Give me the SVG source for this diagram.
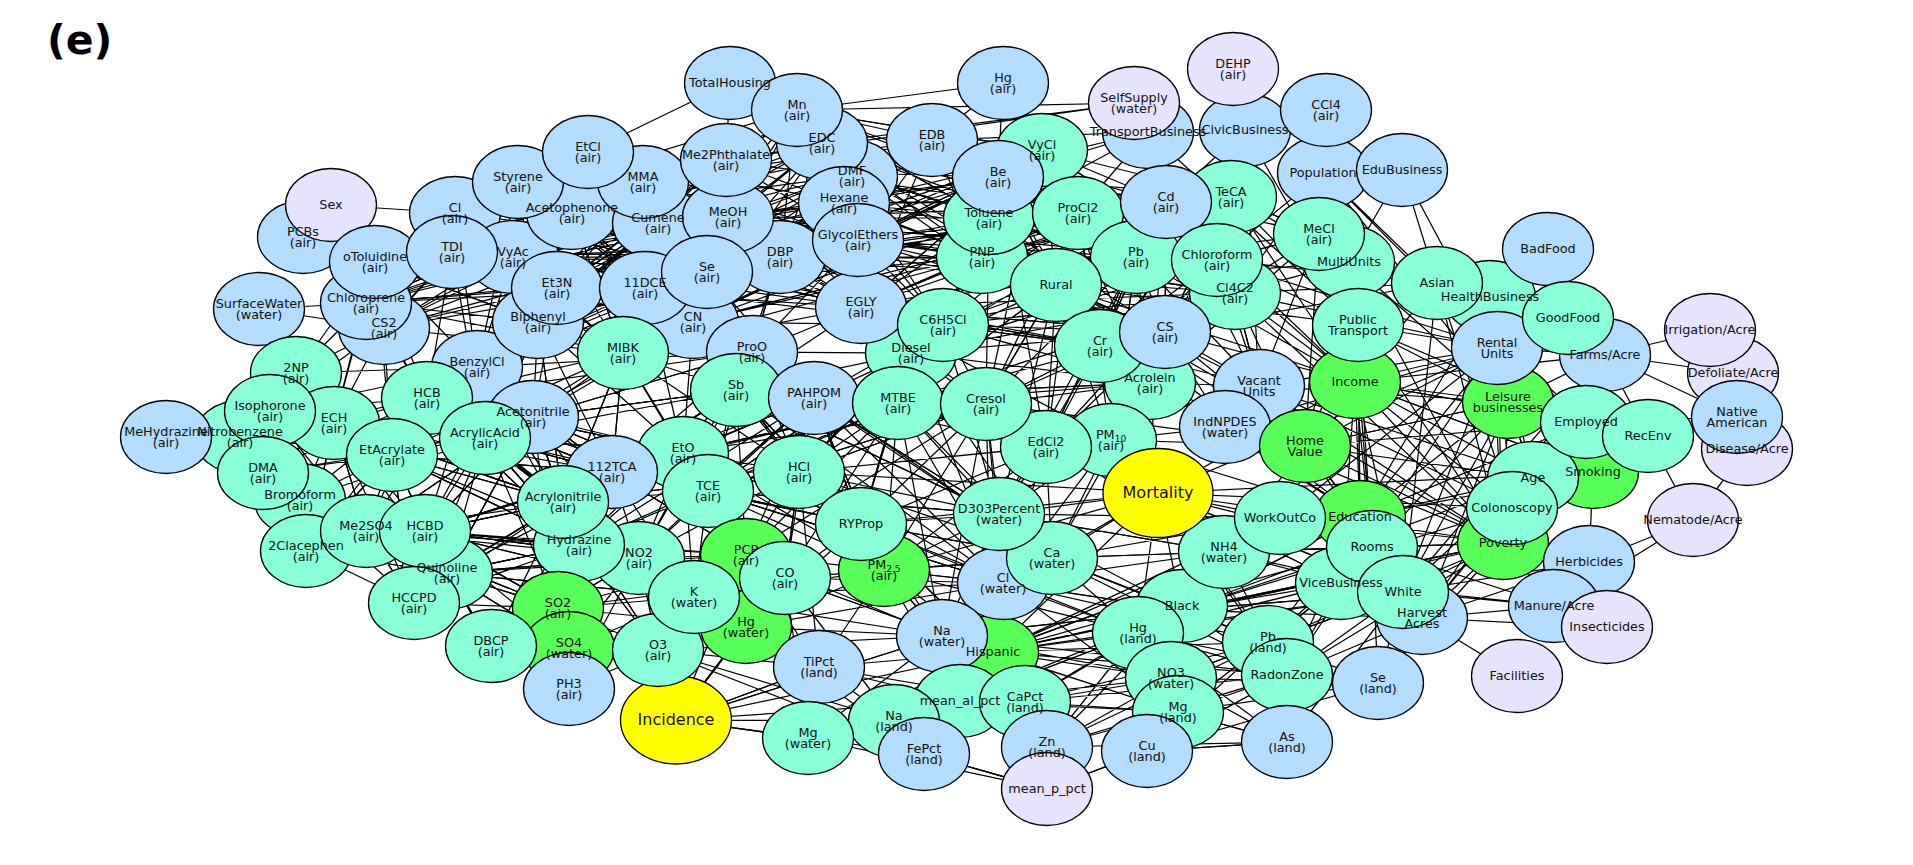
<svg xmlns="http://www.w3.org/2000/svg" width="1913" height="865" viewBox="0 0 1913 865">
<style>
.e{fill:none;stroke:#000;stroke-width:1.25;stroke-linejoin:round}
ellipse{stroke:#000;stroke-width:1.3}
.b{fill:#b3dcfd}.t{fill:#88ffd9}.g{fill:#58ff58}.l{fill:#e6e4fc}.y{fill:#ffff00}
text{font-family:"DejaVu Sans",sans-serif;font-size:12.8px;text-anchor:middle;fill:#111}
.big{font-size:16px}
.sub{font-size:9px}
</style>
<rect width="1913" height="865" fill="#fff"/>
<text x="47" y="54" style="font-size:41px;font-weight:bold;text-anchor:start;fill:#000">(e)</text>
<g id="connectors">
<path class="e" d="M455,213 645,288 452,252 728,217 375,262 658,223 366,303 707,272 513,257 780,257 518,182 693,322 557,288 726,160 384,328 623,353 572,213 858,240 538,322 588,152 477,367 844,203 452,252 643,182 366,303 823,143 455,213 780,257 557,288 658,223 375,262 623,353 518,182 645,288 513,257 728,217 538,322 726,160 455,213 693,322 572,213 861,307 452,252 707,272 366,303 643,182 477,367 797,110 557,288 852,173 538,322 844,203 513,257 588,152 645,288 858,240 518,182 623,353 658,223 384,328 707,272 572,213 780,257 375,262 726,160 645,288 823,143 557,288 861,307 455,213 623,353 728,217 366,303 658,223 538,322 518,182 707,272 477,367 780,257 452,252 693,322 588,152 513,257 858,240 572,213 384,328 844,203 645,288 797,110 455,213"/>
<path class="e" d="M780,257 989,218 728,217 982,257 858,240 943,325 844,203 998,177 852,173 932,140 861,307 1042,150 707,272 1078,213 726,160 1056,285 658,223 1166,202 823,143 1136,257 780,257 1231,197 844,203 1217,260 728,217 1235,293 858,240 1165,332 861,307 1100,346 852,173 989,218 693,322 998,177 623,353 982,257 645,288 943,325 643,182 932,140 572,213 1042,150 797,110 1078,213 823,143 1056,285 844,203 1166,202 858,240 1136,257 861,307 1217,260 780,257 1235,293 852,173 1100,346 707,272 1231,197 693,322 989,218 932,140 1056,285 726,160 982,257 823,143 998,177 858,240 1042,150 780,257 1078,213 861,307 1166,202 693,322 943,325 797,110 989,218 844,203 982,257 728,217 998,177 707,272"/>
<path class="e" d="M998,177 1136,257 1042,150 1217,260 989,218 1235,293 1078,213 1100,346 1166,202 1165,332 1056,285 1150,383 1231,197 1111,440 1136,257 1046,447 1217,260 911,353 1166,202 898,403 1235,293 986,404 1042,150 1150,383 982,257 1165,332 989,218 1100,346 943,325 1056,285 998,177 1046,447 1078,213 986,404 1136,257 1111,440 1217,260 943,325 1231,197 1100,346 861,307 1235,293 911,353 1165,332 898,403 1056,285 814,398 1150,383 986,404 1078,213 1217,260 1319,234 1166,202 1235,293 1231,197 1319,234 1136,257 1100,346 989,218 1150,383 911,353 1046,447 986,404 1111,440 898,403 943,325 799,472 986,404 999,514 1046,447 861,524 911,353 814,398 1111,440 861,307 1165,332 943,325 1235,293"/>
<path class="e" d="M752,352 708,491 736,390 799,472 683,453 814,398 612,472 898,403 752,352 861,524 736,390 911,353 708,491 623,353 799,472 693,322 683,453 645,288 814,398 563,502 736,390 612,472 752,352 683,453 898,403 579,545 814,398 708,491 986,404 683,453 799,472 612,472 736,390 639,558 752,352 533,417 708,491 861,524 683,453 623,353 736,390 746,555 799,472 563,502 814,398 707,272 752,352 780,257 736,390 861,307 752,352 911,353 799,472 999,514 708,491 746,555 683,453 694,597 612,472 623,353 533,417 736,390 579,545 708,491 785,578 799,472 639,558 814,398 861,524 612,472 683,453 538,322 752,352 477,367 612,472 427,398 683,453 485,438 736,390"/>
<path class="e" d="M296,373 334,423 270,411 427,398 240,437 392,455 263,473 485,438 300,500 425,531 306,551 366,531 447,573 334,423 300,500 392,455 414,603 425,531 296,373 384,328 334,423 427,398 270,411 477,367 392,455 533,417 425,531 563,502 366,531 427,398 263,473 334,423 306,551 447,573 485,438 270,411 392,455 300,500 366,531 240,437 427,398 366,303 334,423 414,603 392,455 579,545 425,531 533,417 334,423 447,573 296,373 477,367 425,531 263,473 392,455 306,551 427,398 485,438 414,603 366,531 334,423 563,502 447,573 392,455 375,262 427,398 300,500 296,373 270,411 366,531 533,417 447,573 491,646 425,531 558,608 447,573 579,545 485,438 612,472 427,398 538,322 392,455 384,328 296,373 366,303 334,423 375,262 270,411 384,328 427,398 452,252 485,438 557,288 427,398"/>
<path class="e" d="M414,603 558,608 491,646 639,558 447,573 569,648 425,531 694,597 558,608 658,650 491,646 579,545 569,648 639,558 569,689 658,650 746,627 558,608 746,555 658,650 694,597 579,545 558,608 785,578 639,558 569,648 694,597 563,502 658,650 569,689 694,597 746,555 639,558 746,627 579,545 491,646 447,573 558,608 563,502 639,558 785,578 694,597 708,491 639,558 683,453 579,545 746,555 612,472 558,608 425,531 639,558 366,531 558,608 746,627 785,578 658,650 639,558 708,491 694,597 447,573 579,545 612,472 639,558"/>
<path class="e" d="M785,578 884,570 861,524 942,636 799,472 819,667 746,555 1003,583 694,597 884,570 746,627 942,636 658,650 819,667 676,720 942,636 808,738 993,652 819,667 884,570 1052,558 861,524 1003,583 708,491 884,570 993,652 785,578 808,738 676,720 894,721 819,667 960,701 884,570 999,514 942,636 746,627 924,754 658,650 894,721 993,652 861,524 746,627 676,720 819,667 1025,702 942,636 808,738 960,701 1138,633 993,652 1003,583 894,721 785,578 1052,558 942,636 1047,747 993,652 676,720"/>
<path class="e" d="M1003,583 1138,633 1052,558 1182,610 942,636 1171,678 993,652 1178,712 1003,583 1224,552 1052,558 1268,642 993,652 1287,675 1025,702 1138,633 960,701 1178,712 1047,747 1171,678 1147,751 1268,642 1182,610 1287,675 1138,633 1287,742 1178,712 1378,683 1171,678 1182,610 1047,747 1138,633 1147,751 1287,675 1178,712 1025,702 1171,678 960,701 1182,610 1003,583 1268,642 1052,558 1287,675 942,636 1178,712 993,652 1182,610 1025,702 1268,642 1047,747 1287,675 1224,552 1138,633 1378,683 1268,642 1171,678 1287,742 1147,751 1047,789 924,754 894,721 960,701 1047,747 1047,789 808,738 924,754 894,721"/>
<path class="e" d="M1158,493 1355,382 1360,517 1305,446 1503,543 1259,386 1497,348 1158,493 1403,592 1355,382 1508,402 1360,517 1358,325 1372,547 1305,446 1182,610 1503,543 1355,382 1512,508 1158,493 1593,472 1360,517 1533,478 1305,446 1508,402 1259,386 1360,517 1586,422 1503,543 1403,592 1437,283 1355,382 1341,583 1158,493 993,652 1403,592 1182,610 1360,517 1224,552 1503,543 1372,547 1355,382 1533,478 1259,386 1512,508 1497,348 1503,543 1508,402 1403,592 1305,446 1586,422 1355,382 1349,262 1372,547 1358,325 1305,446 1225,427 1360,517 1280,518 1503,543 993,652 1360,517 1593,472 1355,382 1497,348 1341,583 1508,402 1533,478 1182,610 1512,508 1503,543 1158,493"/>
<path class="e" d="M1056,285 1355,382 1165,332 1305,446 1056,285 1503,543 1235,293 1355,382 1217,260 1358,325 1056,285 1259,386 1100,346 1225,427 1150,383 1259,386 1136,257 1355,382 1231,197 1358,325 1319,234 1355,382 1166,202 1259,386 1235,293 1305,446 1150,383 1360,517 1111,440 1305,446 1165,332 1437,283 1217,260 1497,348 1235,293 1349,262 1056,285 1360,517 1100,346 1158,493 1046,447 1225,427 1111,440 1158,493 999,514 1224,552 1052,558 1280,518 999,514 1158,493 986,404 1305,446 986,404 1158,493 884,570 1158,493 1003,583 1158,493 1052,558 1158,493 1138,633 1158,493 1224,552 1158,493 1372,547 1158,493 1280,518"/>
<path class="e" d="M331,205L455,213M730,83L588,152M730,83L726,160M797,110L1003,83L932,140M1003,83L998,177M1003,83L1042,150M1134,103L797,110M1134,103L823,143M1134,103L726,160M1148,132L998,177M1148,132L989,218M1148,132L932,140M1148,132L844,203M1148,132L1358,325M1245,130L1358,325M1245,130L1217,260M1245,130L1166,202M1245,130L1259,386M1323,173L1437,283M1323,173L1355,382M1323,173L1497,348M1323,173L1349,262M1323,173L1358,325M1323,173L1508,402M1323,173L1217,260M1323,173L1235,293M1402,170L1349,262M1402,170L1497,348M259,309L366,303M259,309L384,328M303,237L375,262M303,237L366,303M166,437L263,473M166,437L300,500M797,110L932,140M797,110L998,177M797,110L1042,150M797,110L989,218M932,140L1078,213M932,140L1166,202M1042,150L1231,197M998,177L1166,202M1148,132L1078,213M1148,132L1166,202"/>
<path class="e" d="M1605,355L1710,330M1605,355L1733,373M1605,355L1737,417M1605,355L1648,436M1605,355L1593,472M1605,355L1497,348M1605,355L1508,402M1605,355L1503,543M1605,355L1403,592M1605,355L1422,618M1605,355L1355,382M1589,562L1593,472M1589,562L1693,520M1554,606L1693,520M1589,562L1422,618M1589,562L1403,592M1554,606L1403,592M1554,606L1422,618M1554,606L1341,583M1554,606L1503,543M1554,606L1372,547M1607,627L1422,618M1517,676L1422,618M1648,436L1693,520M1747,449L1693,520M1737,417L1648,436M1737,417L1586,422M1422,618L1503,543M1422,618L1372,547M1422,618L1512,508M1422,618L1182,610M1422,618L1287,675M1422,618L1378,683M1422,618L1533,478M1422,618L1508,402M1403,592L1586,422M1403,592L1497,348M1360,517L1497,348M1437,283L1508,402M1437,283L1586,422M1437,283L1503,543M1437,283L1512,508M1490,297L1508,402M1490,297L1503,543M1490,297L1533,478M1490,297L1360,517M1437,283L1349,262M1349,262L1508,402M1349,262L1503,543M1358,325L1497,348M1358,325L1508,402M1358,325L1437,283M1358,325L1503,543M1358,325L1360,517M1358,325L1586,422M1259,386L1360,517M1225,427L1503,543M1225,427L1497,348M1305,446L1497,348M1305,446L1508,402M1280,518L1355,382M1280,518L1497,348M1224,552L1503,543M1182,610L1503,543M1182,610L1403,592M1182,610L1372,547M993,652L1372,547M993,652L1360,517M993,652L1503,543M1268,642L1403,592M1287,675L1403,592M1287,675L1503,543M1287,675L1341,583M1378,683L1403,592M1287,742L1287,675M1147,751L1287,742M1268,642L1341,583M1268,642L1372,547M1497,348L1586,422M1497,348L1593,472M1508,402L1593,472M1508,402L1533,478M1355,382L1586,422M1355,382L1593,472M1402,170L1437,283"/>
<path class="e" d="M1182,610L1360,517M1182,610L1341,583M1182,610L1280,518M1224,552L1341,583M1224,552L1372,547M1224,552L1403,592M1268,642L1503,543M1268,642L1360,517M1287,675L1360,517M1287,675L1372,547M1378,683L1503,543M1378,683L1372,547M1287,742L1403,592M1138,633L1403,592M1138,633L1341,583M1138,633L1503,543M1171,678L1403,592M1178,712L1341,583M1147,751L1287,675M1147,751L1378,683M1047,747L1287,742M1047,789L1147,751M924,754L1047,789M1178,712L1287,742M1171,678L1268,642M1138,633L1224,552M1138,633L1280,518M1052,558L1182,610M1003,583L1182,610M942,636L1182,610M993,652L1224,552M993,652L1280,518M1158,493L1341,583M1158,493L1403,592M1158,493L1268,642M1158,493L1287,675M1158,493L1182,610M999,514L1182,610M999,514L993,652M1052,558L993,652M676,720L819,667M676,720L808,738M676,720L746,627M676,720L658,650M676,720L785,578M676,720L694,597M676,720L746,555M676,720L942,636M676,720L960,701"/>
<path class="e" d="M898,403L1003,583M898,403L1052,558M814,398L1052,558M814,398L999,514M799,472L1052,558M799,472L1003,583M736,390L999,514M736,390L1003,583M752,352L1052,558M708,491L1003,583M708,491L999,514M986,404L1003,583M986,404L942,636M986,404L993,652M911,353L1052,558M911,353L1003,583M898,403L942,636M861,524L1052,558M861,524L999,514M814,398L884,570M898,403L884,570M986,404L884,570M1046,447L1003,583M1046,447L884,570M1111,440L1052,558M1111,440L1003,583M1150,383L1052,558M1150,383L999,514M1100,346L999,514M1165,332L1052,558M683,453L884,570M683,453L861,524M612,472L861,524M612,472L746,555M533,417L708,491M563,502L708,491M563,502L799,472M736,390L861,524M943,325L898,403M943,325L986,404M943,325L814,398M943,325L999,514M861,307L898,403M861,307L986,404M858,240L911,353M844,203L911,353M982,257L911,353M989,218L986,404M1056,285L986,404M1056,285L999,514M1136,257L999,514"/>
<path class="e" d="M452,252 557,288 375,262 538,322 455,213 366,303 513,257 384,328 518,182 477,367 572,213 452,252 645,288 366,303 557,288 455,213 538,322 375,262 513,257 477,367 518,182 557,288 384,328 452,252 572,213 366,303 538,322 513,257 455,213 477,367 375,262 557,288 658,223 452,252 623,353 366,303 572,213 513,257 693,322 455,213 538,322 643,182 375,262 707,272 452,252 588,152 366,303 645,288 477,367 658,223 513,257 623,353 538,322 780,257 557,288 518,182 375,262 693,322 452,252"/>
<path class="e" d="M726,160 858,240 728,217 861,307 658,223 852,173 707,272 844,203 693,322 823,143 780,257 726,160 861,307 643,182 858,240 645,288 844,203 623,353 780,257 797,110 728,217 943,325 707,272 858,240 572,213 780,257 823,143 693,322 852,173 728,217 844,203 658,223 861,307 726,160 780,257 852,173 645,288 823,143 707,272 797,110 658,223 858,240 588,152 844,203 623,353 861,307 572,213 726,160 707,272 643,182 780,257 752,352 858,240 693,322 844,203 707,272 861,307 780,257 658,223 823,143 728,217"/>
<path class="e" d="M932,140 989,218 1042,150 982,257 1078,213 858,240 998,177 1056,285 932,140 1136,257 989,218 1166,202 982,257 1231,197 998,177 1217,260 1042,150 1056,285 989,218 1078,213 943,325 998,177 844,203 982,257 932,140 858,240 1042,150 1166,202 1056,285 852,173 989,218 1136,257 982,257 1100,346 998,177 1078,213 861,307 1042,150 943,325 989,218 1235,293 982,257 1217,260 1078,213 932,140 1056,285 858,240 998,177 1166,202 989,218 861,307 982,257 1042,150"/>
<path class="e" d="M427,398 533,417 392,455 563,502 485,438 612,472 427,398 579,545 533,417 477,367 563,502 392,455 623,353 485,438 538,322 563,502 427,398 752,352 533,417 683,453 485,438 579,545 477,367 612,472 392,455 533,417 736,390 563,502 334,423 533,417 538,322 425,531 485,438 623,353 427,398 612,472 579,545 392,455 477,367 533,417 447,573 563,502 623,353 683,453 427,398 485,438 693,322 533,417 425,531 612,472 477,367 366,531 533,417 557,288 485,438 708,491 427,398"/>
<path class="e" d="M425,531 447,573 366,531 414,603 306,551 447,573 300,500 414,603 392,455 447,573 491,646 579,545 425,531 558,608 366,531 579,545 447,573 639,558 425,531 491,646 563,502 447,573 569,648 579,545 414,603 563,502 425,531 746,555 447,573 694,597 579,545 658,650 563,502 558,608 612,472 447,573 683,453 425,531 612,472 491,646 639,558 563,502 694,597 425,531 306,551 414,603 366,531 263,473 366,531 392,455 306,551 334,423 366,531 300,500 447,573"/>
<path class="e" d="M799,472 898,403 861,524 814,398 999,514 736,390 986,404 708,491 898,403 746,555 814,398 785,578 898,403 1046,447 799,472 986,404 861,524 752,352 799,472 884,570 814,398 683,453 898,403 708,491 911,353 799,472 1111,440 898,403 999,514 814,398 986,404 736,390 861,524 785,578 799,472 1046,447 814,398 708,491 986,404 746,555 898,403 799,472 911,353 861,524 708,491 814,398 1150,383 898,403 736,390 884,570 799,472"/>
<path class="e" d="M1100,346 1217,260 1150,383 1056,285 1165,332 1136,257 1150,383 1166,202 1100,346 1231,197 1165,332 1078,213 1111,440 1056,285 1046,447 1100,346 1235,293 1150,383 1217,260 1165,332 1166,202 1111,440 1235,293 1100,346 1136,257 1046,447 1165,332 1056,285 986,404 1100,346 943,325 1150,383 1319,234 1165,332 1217,260 1111,440 1136,257 1100,346"/>
<path class="e" d="M799,472L1158,493M861,524L1158,493M708,491L1003,583M898,403L1158,493M986,404L1224,552M999,514L1224,552M884,570L1138,633M785,578L1003,583M746,555L942,636M861,524L1138,633M814,398L1003,583M799,472L942,636M746,627L1003,583M694,597L942,636M785,578L993,652M884,570L1052,558M884,570L1003,583M861,524L993,652M1046,447L1052,558M1046,447L999,514M1111,440L999,514M1150,383L1158,493M1100,346L1158,493M1165,332L1225,427M1165,332L1259,386M1235,293L1259,386M1217,260L1259,386M1319,234L1259,386M1319,234L1358,325M1349,262L1355,382M1349,262L1305,446M1319,234L1305,446M1235,293L1437,283M1231,197L1349,262M1231,197L1319,234"/>
<path class="e" d="M533,417 612,472 427,398 563,502 392,455 612,472 485,438 579,545 427,398 639,558 533,417 447,573 612,472 425,531 563,502 477,367 612,472 683,453 485,438 639,558 392,455 563,502 623,353 612,472 538,322 563,502 427,398 708,491 533,417 579,545 392,455 612,472 334,423 563,502 485,438 558,608 533,417 639,558 425,531 579,545 612,472 736,390 533,417 563,502 683,453 427,398 639,558"/>
<path class="e" d="M658,223 707,272 572,213 693,322 643,182 645,288 588,152 707,272 557,288 658,223 623,353 572,213 645,288 726,160 693,322 658,223 538,322 707,272 518,182 645,288 728,217 693,322 588,152 658,223 557,288 643,182 623,353 707,272 780,257 645,288"/>
</g>
<g id="nodes">
<g id="node-PCBs"><ellipse class="b" cx="303" cy="237" rx="45.5" ry="36.5"/></g>
<g id="node-Sex"><ellipse class="l" cx="331" cy="205" rx="45.5" ry="36.5"/></g>
<g id="node-Cl-air"><ellipse class="b" cx="455" cy="213" rx="45.5" ry="36.5"/></g>
<g id="node-CS2"><ellipse class="b" cx="384" cy="328" rx="45.5" ry="36.5"/></g>
<g id="node-Chloroprene"><ellipse class="b" cx="366" cy="303" rx="45.5" ry="36.5"/></g>
<g id="node-oToluidine"><ellipse class="b" cx="375" cy="262" rx="45.5" ry="36.5"/></g>
<g id="node-VyAc"><ellipse class="b" cx="513" cy="257" rx="45.5" ry="36.5"/></g>
<g id="node-TDI"><ellipse class="b" cx="452" cy="252" rx="45.5" ry="36.5"/></g>
<g id="node-SurfaceWater"><ellipse class="b" cx="259" cy="309" rx="45.5" ry="36.5"/></g>
<g id="node-Acetophenone"><ellipse class="b" cx="572" cy="213" rx="45.5" ry="36.5"/></g>
<g id="node-Styrene"><ellipse class="b" cx="518" cy="182" rx="45.5" ry="36.5"/></g>
<g id="node-Cumene"><ellipse class="b" cx="658" cy="223" rx="45.5" ry="36.5"/></g>
<g id="node-MMA"><ellipse class="b" cx="643" cy="182" rx="45.5" ry="36.5"/></g>
<g id="node-EtCl"><ellipse class="b" cx="588" cy="152" rx="45.5" ry="36.5"/></g>
<g id="node-DBP"><ellipse class="b" cx="780" cy="257" rx="45.5" ry="36.5"/></g>
<g id="node-MeOH"><ellipse class="b" cx="728" cy="217" rx="45.5" ry="36.5"/></g>
<g id="node-Me2Phthalate"><ellipse class="b" cx="726" cy="160" rx="45.5" ry="36.5"/></g>
<g id="node-TotalHousing"><ellipse class="b" cx="730" cy="83" rx="45.5" ry="36.5"/></g>
<g id="node-DMF"><ellipse class="b" cx="852" cy="176" rx="45.5" ry="36.5"/></g>
<g id="node-EDC"><ellipse class="b" cx="822" cy="143" rx="45.5" ry="36.5"/></g>
<g id="node-Mn"><ellipse class="b" cx="797" cy="110" rx="45.5" ry="36.5"/></g>
<g id="node-Hexane"><ellipse class="b" cx="844" cy="203" rx="45.5" ry="36.5"/></g>
<g id="node-Diesel"><ellipse class="t" cx="911" cy="353" rx="45.5" ry="36.5"/></g>
<g id="node-EGLY"><ellipse class="b" cx="861" cy="307" rx="45.5" ry="36.5"/></g>
<g id="node-GlycolEthers"><ellipse class="b" cx="858" cy="240" rx="45.5" ry="36.5"/></g>
<g id="node-BenzylCl"><ellipse class="b" cx="477" cy="367" rx="45.5" ry="36.5"/></g>
<g id="node-Biphenyl"><ellipse class="b" cx="538" cy="322" rx="45.5" ry="36.5"/></g>
<g id="node-Et3N"><ellipse class="b" cx="557" cy="288" rx="45.5" ry="36.5"/></g>
<g id="node-CN"><ellipse class="b" cx="693" cy="322" rx="45.5" ry="36.5"/></g>
<g id="node-11DCE"><ellipse class="b" cx="645" cy="288" rx="45.5" ry="36.5"/></g>
<g id="node-Se-air"><ellipse class="b" cx="707" cy="272" rx="45.5" ry="36.5"/></g>
<g id="node-MIBK"><ellipse class="t" cx="623" cy="353" rx="45.5" ry="36.5"/></g>
<g id="node-EDB"><ellipse class="b" cx="932" cy="140" rx="45.5" ry="36.5"/></g>
<g id="node-VyCl"><ellipse class="t" cx="1042" cy="150" rx="45.5" ry="36.5"/></g>
<g id="node-PNP"><ellipse class="t" cx="982" cy="257" rx="45.5" ry="36.5"/></g>
<g id="node-Toluene"><ellipse class="t" cx="989" cy="218" rx="45.5" ry="36.5"/></g>
<g id="node-Be"><ellipse class="b" cx="998" cy="177" rx="45.5" ry="36.5"/></g>
<g id="node-Hg-air"><ellipse class="b" cx="1003" cy="83" rx="45.5" ry="36.5"/></g>
<g id="node-C6H5Cl"><ellipse class="t" cx="943" cy="325" rx="45.5" ry="36.5"/></g>
<g id="node-TransportBusiness"><ellipse class="b" cx="1148" cy="132" rx="45.5" ry="36.5"/></g>
<g id="node-SelfSupply"><ellipse class="l" cx="1134" cy="103" rx="45.5" ry="36.5"/></g>
<g id="node-CivicBusiness"><ellipse class="b" cx="1245" cy="130" rx="45.5" ry="36.5"/></g>
<g id="node-DEHP"><ellipse class="l" cx="1233" cy="69" rx="45.5" ry="36.5"/></g>
<g id="node-Population"><ellipse class="b" cx="1323" cy="173" rx="45.5" ry="36.5"/></g>
<g id="node-CCl4"><ellipse class="b" cx="1326" cy="110" rx="45.5" ry="36.5"/></g>
<g id="node-EduBusiness"><ellipse class="b" cx="1402" cy="170" rx="45.5" ry="36.5"/></g>
<g id="node-ProCl2"><ellipse class="t" cx="1078" cy="213" rx="45.5" ry="36.5"/></g>
<g id="node-TeCA"><ellipse class="t" cx="1231" cy="197" rx="45.5" ry="36.5"/></g>
<g id="node-Pb-air"><ellipse class="t" cx="1136" cy="257" rx="45.5" ry="36.5"/></g>
<g id="node-Cd"><ellipse class="b" cx="1166" cy="202" rx="45.5" ry="36.5"/></g>
<g id="node-Cl4C2"><ellipse class="t" cx="1235" cy="293" rx="45.5" ry="36.5"/></g>
<g id="node-Chloroform"><ellipse class="t" cx="1217" cy="260" rx="45.5" ry="36.5"/></g>
<g id="node-MultiUnits"><ellipse class="t" cx="1349" cy="262" rx="45.5" ry="36.5"/></g>
<g id="node-MeCl"><ellipse class="t" cx="1319" cy="234" rx="45.5" ry="36.5"/></g>
<g id="node-Rural"><ellipse class="t" cx="1056" cy="285" rx="45.5" ry="36.5"/></g>
<g id="node-Acrolein"><ellipse class="t" cx="1150" cy="383" rx="45.5" ry="36.5"/></g>
<g id="node-Cr"><ellipse class="t" cx="1100" cy="346" rx="45.5" ry="36.5"/></g>
<g id="node-CS"><ellipse class="b" cx="1165" cy="332" rx="45.5" ry="36.5"/></g>
<g id="node-Income"><ellipse class="g" cx="1355" cy="382" rx="45.5" ry="36.5"/></g>
<g id="node-PublicTransport"><ellipse class="t" cx="1358" cy="325" rx="45.5" ry="36.5"/></g>
<g id="node-HealthBusiness"><ellipse class="t" cx="1490" cy="297" rx="45.5" ry="36.5"/></g>
<g id="node-Asian"><ellipse class="t" cx="1437" cy="283" rx="45.5" ry="36.5"/></g>
<g id="node-BadFood"><ellipse class="b" cx="1548" cy="249" rx="45.5" ry="36.5"/></g>
<g id="node-LeisureBusinesses"><ellipse class="g" cx="1508" cy="402" rx="45.5" ry="36.5"/></g>
<g id="node-RentalUnits"><ellipse class="b" cx="1497" cy="348" rx="45.5" ry="36.5"/></g>
<g id="node-FarmsAcre"><ellipse class="b" cx="1605" cy="355" rx="45.5" ry="36.5"/></g>
<g id="node-GoodFood"><ellipse class="t" cx="1568" cy="318" rx="45.5" ry="36.5"/></g>
<g id="node-DefoliateAcre"><ellipse class="l" cx="1733" cy="373" rx="45.5" ry="36.5"/></g>
<g id="node-IrrigationAcre"><ellipse class="l" cx="1710" cy="330" rx="45.5" ry="36.5"/></g>
<g id="node-DiseaseAcre"><ellipse class="l" cx="1747" cy="449" rx="45.5" ry="36.5"/></g>
<g id="node-NativeAmerican"><ellipse class="b" cx="1737" cy="417" rx="45.5" ry="36.5"/></g>
<g id="node-Smoking"><ellipse class="g" cx="1593" cy="472" rx="45.5" ry="36.5"/></g>
<g id="node-Age"><ellipse class="t" cx="1533" cy="478" rx="45.5" ry="36.5"/></g>
<g id="node-Employed"><ellipse class="t" cx="1586" cy="422" rx="45.5" ry="36.5"/></g>
<g id="node-RecEnv"><ellipse class="t" cx="1648" cy="436" rx="45.5" ry="36.5"/></g>
<g id="node-Poverty"><ellipse class="g" cx="1503" cy="543" rx="45.5" ry="36.5"/></g>
<g id="node-Colonoscopy"><ellipse class="t" cx="1512" cy="508" rx="45.5" ry="36.5"/></g>
<g id="node-NematodeAcre"><ellipse class="l" cx="1693" cy="520" rx="45.5" ry="36.5"/></g>
<g id="node-Herbicides"><ellipse class="b" cx="1589" cy="562" rx="45.5" ry="36.5"/></g>
<g id="node-ManureAcre"><ellipse class="b" cx="1554" cy="606" rx="45.5" ry="36.5"/></g>
<g id="node-Insecticides"><ellipse class="l" cx="1607" cy="627" rx="45.5" ry="36.5"/></g>
<g id="node-Facilities"><ellipse class="l" cx="1517" cy="676" rx="45.5" ry="36.5"/></g>
<g id="node-HarvestAcres"><ellipse class="b" cx="1422" cy="618" rx="45.5" ry="36.5"/></g>
<g id="node-ViceBusiness"><ellipse class="t" cx="1341" cy="583" rx="45.5" ry="36.5"/></g>
<g id="node-Education"><ellipse class="g" cx="1360" cy="517" rx="45.5" ry="36.5"/></g>
<g id="node-Rooms"><ellipse class="t" cx="1372" cy="547" rx="45.5" ry="36.5"/></g>
<g id="node-White"><ellipse class="t" cx="1403" cy="592" rx="45.5" ry="36.5"/></g>
<g id="node-Black"><ellipse class="t" cx="1182" cy="606" rx="45.5" ry="36.5"/></g>
<g id="node-NH4-water"><ellipse class="t" cx="1224" cy="552" rx="45.5" ry="36.5"/></g>
<g id="node-WorkOutCo"><ellipse class="t" cx="1280" cy="518" rx="45.5" ry="36.5"/></g>
<g id="node-VacantUnits"><ellipse class="b" cx="1259" cy="386" rx="45.5" ry="36.5"/></g>
<g id="node-IndNPDES"><ellipse class="b" cx="1225" cy="427" rx="45.5" ry="36.5"/></g>
<g id="node-HomeValue"><ellipse class="g" cx="1305" cy="446" rx="45.5" ry="36.5"/></g>
<g id="node-PM10"><ellipse class="t" cx="1111" cy="440" rx="45.5" ry="36.5"/></g>
<g id="node-EdCl2"><ellipse class="t" cx="1046" cy="447" rx="45.5" ry="36.5"/></g>
<g id="node-Mortality"><ellipse class="y" cx="1158" cy="493" rx="55" ry="44.5"/></g>
<g id="node-ProO"><ellipse class="b" cx="752" cy="352" rx="45.5" ry="36.5"/></g>
<g id="node-Sb"><ellipse class="t" cx="736" cy="390" rx="45.5" ry="36.5"/></g>
<g id="node-PAHPOM"><ellipse class="b" cx="814" cy="398" rx="45.5" ry="36.5"/></g>
<g id="node-MTBE"><ellipse class="t" cx="898" cy="403" rx="45.5" ry="36.5"/></g>
<g id="node-Cresol"><ellipse class="t" cx="986" cy="404" rx="45.5" ry="36.5"/></g>
<g id="node-EtO"><ellipse class="t" cx="683" cy="453" rx="45.5" ry="36.5"/></g>
<g id="node-112TCA"><ellipse class="b" cx="612" cy="472" rx="45.5" ry="36.5"/></g>
<g id="node-TCE"><ellipse class="t" cx="708" cy="491" rx="45.5" ry="36.5"/></g>
<g id="node-HCl"><ellipse class="t" cx="799" cy="472" rx="45.5" ry="36.5"/></g>
<g id="node-PM25"><ellipse class="g" cx="884" cy="570" rx="45.5" ry="36.5"/></g>
<g id="node-RYProp"><ellipse class="t" cx="861" cy="524" rx="45.5" ry="36.5"/></g>
<g id="node-Hispanic"><ellipse class="g" cx="993" cy="652" rx="45.5" ry="36.5"/></g>
<g id="node-Cl-water"><ellipse class="b" cx="1003" cy="583" rx="45.5" ry="36.5"/></g>
<g id="node-Ca-water"><ellipse class="t" cx="1052" cy="558" rx="45.5" ry="36.5"/></g>
<g id="node-D303Percent"><ellipse class="t" cx="999" cy="514" rx="45.5" ry="36.5"/></g>
<g id="node-2NP"><ellipse class="t" cx="296" cy="373" rx="45.5" ry="36.5"/></g>
<g id="node-Nitrobenzene"><ellipse class="t" cx="240" cy="437" rx="45.5" ry="36.5"/></g>
<g id="node-ECH"><ellipse class="t" cx="334" cy="423" rx="45.5" ry="36.5"/></g>
<g id="node-Isophorone"><ellipse class="t" cx="270" cy="411" rx="45.5" ry="36.5"/></g>
<g id="node-MeHydrazine"><ellipse class="b" cx="166" cy="437" rx="45.5" ry="36.5"/></g>
<g id="node-Bromoform"><ellipse class="t" cx="300" cy="500" rx="45.5" ry="36.5"/></g>
<g id="node-DMA"><ellipse class="t" cx="263" cy="473" rx="45.5" ry="36.5"/></g>
<g id="node-HCB"><ellipse class="t" cx="427" cy="398" rx="45.5" ry="36.5"/></g>
<g id="node-Acetonitrile"><ellipse class="b" cx="533" cy="417" rx="45.5" ry="36.5"/></g>
<g id="node-AcrylicAcid"><ellipse class="t" cx="485" cy="438" rx="45.5" ry="36.5"/></g>
<g id="node-EtAcrylate"><ellipse class="t" cx="392" cy="455" rx="45.5" ry="36.5"/></g>
<g id="node-2Clacephen"><ellipse class="t" cx="306" cy="551" rx="45.5" ry="36.5"/></g>
<g id="node-Me2SO4"><ellipse class="t" cx="366" cy="531" rx="45.5" ry="36.5"/></g>
<g id="node-Quinoline"><ellipse class="t" cx="447" cy="573" rx="45.5" ry="36.5"/></g>
<g id="node-HCBD"><ellipse class="t" cx="425" cy="531" rx="45.5" ry="36.5"/></g>
<g id="node-HCCPD"><ellipse class="t" cx="414" cy="603" rx="45.5" ry="36.5"/></g>
<g id="node-NO2"><ellipse class="t" cx="639" cy="558" rx="45.5" ry="36.5"/></g>
<g id="node-Hydrazine"><ellipse class="t" cx="579" cy="545" rx="45.5" ry="36.5"/></g>
<g id="node-Acrylonitrile"><ellipse class="t" cx="563" cy="502" rx="45.5" ry="36.5"/></g>
<g id="node-PCP"><ellipse class="g" cx="746" cy="555" rx="45.5" ry="36.5"/></g>
<g id="node-SO2"><ellipse class="g" cx="558" cy="608" rx="45.5" ry="36.5"/></g>
<g id="node-SO4"><ellipse class="g" cx="569" cy="648" rx="45.5" ry="36.5"/></g>
<g id="node-DBCP"><ellipse class="t" cx="491" cy="646" rx="45.5" ry="36.5"/></g>
<g id="node-PH3"><ellipse class="b" cx="569" cy="689" rx="45.5" ry="36.5"/></g>
<g id="node-Incidence"><ellipse class="y" cx="676" cy="720" rx="55.5" ry="44"/></g>
<g id="node-O3"><ellipse class="t" cx="658" cy="650" rx="45.5" ry="36.5"/></g>
<g id="node-Hg-water"><ellipse class="g" cx="746" cy="627" rx="45.5" ry="36.5"/></g>
<g id="node-K-water"><ellipse class="t" cx="694" cy="597" rx="45.5" ry="36.5"/></g>
<g id="node-CO"><ellipse class="t" cx="785" cy="578" rx="45.5" ry="36.5"/></g>
<g id="node-Na-water"><ellipse class="b" cx="942" cy="636" rx="45.5" ry="36.5"/></g>
<g id="node-TiPct"><ellipse class="b" cx="819" cy="667" rx="45.5" ry="36.5"/></g>
<g id="node-mean_al_pct"><ellipse class="t" cx="960" cy="701" rx="45.5" ry="36.5"/></g>
<g id="node-CaPct"><ellipse class="t" cx="1025" cy="702" rx="45.5" ry="36.5"/></g>
<g id="node-Na-land"><ellipse class="t" cx="894" cy="721" rx="45.5" ry="36.5"/></g>
<g id="node-Mg-water"><ellipse class="t" cx="808" cy="738" rx="45.5" ry="36.5"/></g>
<g id="node-FePct"><ellipse class="b" cx="924" cy="754" rx="45.5" ry="36.5"/></g>
<g id="node-Zn"><ellipse class="b" cx="1047" cy="747" rx="45.5" ry="36.5"/></g>
<g id="node-mean_p_pct"><ellipse class="l" cx="1047" cy="789" rx="45.5" ry="36.5"/></g>
<g id="node-Hg-land"><ellipse class="t" cx="1138" cy="633" rx="45.5" ry="36.5"/></g>
<g id="node-NO3"><ellipse class="t" cx="1171" cy="678" rx="45.5" ry="36.5"/></g>
<g id="node-Mg-land"><ellipse class="t" cx="1178" cy="712" rx="45.5" ry="36.5"/></g>
<g id="node-Cu"><ellipse class="b" cx="1147" cy="751" rx="45.5" ry="36.5"/></g>
<g id="node-Pb-land"><ellipse class="t" cx="1268" cy="642" rx="45.5" ry="36.5"/></g>
<g id="node-RadonZone"><ellipse class="t" cx="1287" cy="675" rx="45.5" ry="36.5"/></g>
<g id="node-Se-land"><ellipse class="b" cx="1378" cy="683" rx="45.5" ry="36.5"/></g>
<g id="node-As-land"><ellipse class="b" cx="1287" cy="742" rx="45.5" ry="36.5"/></g>
</g>
<g id="labels">
<text x="303" y="235.5">PCBs<tspan x="303" dy="11.5">(air)</tspan></text>
<text x="331" y="209">Sex</text>
<text x="455" y="211.5">Cl<tspan x="455" dy="11.5">(air)</tspan></text>
<text x="384" y="326.5">CS2<tspan x="384" dy="11.5">(air)</tspan></text>
<text x="366" y="301.5">Chloroprene<tspan x="366" dy="11.5">(air)</tspan></text>
<text x="375" y="260.5">oToluidine<tspan x="375" dy="11.5">(air)</tspan></text>
<text x="513" y="255.5">VyAc<tspan x="513" dy="11.5">(air)</tspan></text>
<text x="452" y="250.5">TDI<tspan x="452" dy="11.5">(air)</tspan></text>
<text x="259" y="307.5">SurfaceWater<tspan x="259" dy="11.5">(water)</tspan></text>
<text x="572" y="211.5">Acetophenone<tspan x="572" dy="11.5">(air)</tspan></text>
<text x="518" y="180.5">Styrene<tspan x="518" dy="11.5">(air)</tspan></text>
<text x="658" y="221.5">Cumene<tspan x="658" dy="11.5">(air)</tspan></text>
<text x="643" y="180.5">MMA<tspan x="643" dy="11.5">(air)</tspan></text>
<text x="588" y="150.5">EtCl<tspan x="588" dy="11.5">(air)</tspan></text>
<text x="780" y="255.5">DBP<tspan x="780" dy="11.5">(air)</tspan></text>
<text x="728" y="215.5">MeOH<tspan x="728" dy="11.5">(air)</tspan></text>
<text x="726" y="158.5">Me2Phthalate<tspan x="726" dy="11.5">(air)</tspan></text>
<text x="730" y="87">TotalHousing</text>
<text x="852" y="174.5">DMF<tspan x="852" dy="11.5">(air)</tspan></text>
<text x="822" y="141.5">EDC<tspan x="822" dy="11.5">(air)</tspan></text>
<text x="797" y="108.5">Mn<tspan x="797" dy="11.5">(air)</tspan></text>
<text x="844" y="201.5">Hexane<tspan x="844" dy="11.5">(air)</tspan></text>
<text x="911" y="351.5">Diesel<tspan x="911" dy="11.5">(air)</tspan></text>
<text x="861" y="305.5">EGLY<tspan x="861" dy="11.5">(air)</tspan></text>
<text x="858" y="238.5">GlycolEthers<tspan x="858" dy="11.5">(air)</tspan></text>
<text x="477" y="365.5">BenzylCl<tspan x="477" dy="11.5">(air)</tspan></text>
<text x="538" y="320.5">Biphenyl<tspan x="538" dy="11.5">(air)</tspan></text>
<text x="557" y="286.5">Et3N<tspan x="557" dy="11.5">(air)</tspan></text>
<text x="693" y="320.5">CN<tspan x="693" dy="11.5">(air)</tspan></text>
<text x="645" y="286.5">11DCE<tspan x="645" dy="11.5">(air)</tspan></text>
<text x="707" y="270.5">Se<tspan x="707" dy="11.5">(air)</tspan></text>
<text x="623" y="351.5">MIBK<tspan x="623" dy="11.5">(air)</tspan></text>
<text x="932" y="138.5">EDB<tspan x="932" dy="11.5">(air)</tspan></text>
<text x="1042" y="148.5">VyCl<tspan x="1042" dy="11.5">(air)</tspan></text>
<text x="982" y="255.5">PNP<tspan x="982" dy="11.5">(air)</tspan></text>
<text x="989" y="216.5">Toluene<tspan x="989" dy="11.5">(air)</tspan></text>
<text x="998" y="175.5">Be<tspan x="998" dy="11.5">(air)</tspan></text>
<text x="1003" y="81.5">Hg<tspan x="1003" dy="11.5">(air)</tspan></text>
<text x="943" y="323.5">C6H5Cl<tspan x="943" dy="11.5">(air)</tspan></text>
<text x="1148" y="136">TransportBusiness</text>
<text x="1134" y="101.5">SelfSupply<tspan x="1134" dy="11.5">(water)</tspan></text>
<text x="1245" y="134">CivicBusiness</text>
<text x="1233" y="67.5">DEHP<tspan x="1233" dy="11.5">(air)</tspan></text>
<text x="1323" y="177">Population</text>
<text x="1326" y="108.5">CCl4<tspan x="1326" dy="11.5">(air)</tspan></text>
<text x="1402" y="174">EduBusiness</text>
<text x="1078" y="211.5">ProCl2<tspan x="1078" dy="11.5">(air)</tspan></text>
<text x="1231" y="195.5">TeCA<tspan x="1231" dy="11.5">(air)</tspan></text>
<text x="1136" y="255.5">Pb<tspan x="1136" dy="11.5">(air)</tspan></text>
<text x="1166" y="200.5">Cd<tspan x="1166" dy="11.5">(air)</tspan></text>
<text x="1235" y="291.5">Cl4C2<tspan x="1235" dy="11.5">(air)</tspan></text>
<text x="1217" y="258.5">Chloroform<tspan x="1217" dy="11.5">(air)</tspan></text>
<text x="1349" y="266">MultiUnits</text>
<text x="1319" y="232.5">MeCl<tspan x="1319" dy="11.5">(air)</tspan></text>
<text x="1056" y="289">Rural</text>
<text x="1150" y="381.5">Acrolein<tspan x="1150" dy="11.5">(air)</tspan></text>
<text x="1100" y="344.5">Cr<tspan x="1100" dy="11.5">(air)</tspan></text>
<text x="1165" y="330.5">CS<tspan x="1165" dy="11.5">(air)</tspan></text>
<text x="1355" y="386">Income</text>
<text x="1358" y="323.5">Public<tspan x="1358" dy="11.5">Transport</tspan></text>
<text x="1490" y="301">HealthBusiness</text>
<text x="1437" y="287">Asian</text>
<text x="1548" y="253">BadFood</text>
<text x="1508" y="400.5">Leisure<tspan x="1508" dy="11.5">businesses</tspan></text>
<text x="1497" y="346.5">Rental<tspan x="1497" dy="11.5">Units</tspan></text>
<text x="1605" y="359">Farms/Acre</text>
<text x="1568" y="322">GoodFood</text>
<text x="1733" y="377">Defoliate/Acre</text>
<text x="1710" y="334">Irrigation/Acre</text>
<text x="1747" y="453">Disease/Acre</text>
<text x="1737" y="415.5">Native<tspan x="1737" dy="11.5">American</tspan></text>
<text x="1593" y="476">Smoking</text>
<text x="1533" y="482">Age</text>
<text x="1586" y="426">Employed</text>
<text x="1648" y="440">RecEnv</text>
<text x="1503" y="547">Poverty</text>
<text x="1512" y="512">Colonoscopy</text>
<text x="1693" y="524">Nematode/Acre</text>
<text x="1589" y="566">Herbicides</text>
<text x="1554" y="610">Manure/Acre</text>
<text x="1607" y="631">Insecticides</text>
<text x="1517" y="680">Facilities</text>
<text x="1422" y="616.5">Harvest<tspan x="1422" dy="11.5">Acres</tspan></text>
<text x="1341" y="587">ViceBusiness</text>
<text x="1360" y="521">Education</text>
<text x="1372" y="551">Rooms</text>
<text x="1403" y="596">White</text>
<text x="1182" y="610">Black</text>
<text x="1224" y="550.5">NH4<tspan x="1224" dy="11.5">(water)</tspan></text>
<text x="1280" y="522">WorkOutCo</text>
<text x="1259" y="384.5">Vacant<tspan x="1259" dy="11.5">Units</tspan></text>
<text x="1225" y="425.5">IndNPDES<tspan x="1225" dy="11.5">(water)</tspan></text>
<text x="1305" y="444.5">Home<tspan x="1305" dy="11.5">Value</tspan></text>
<text x="1111" y="438.5">PM<tspan class="sub" dy="3">10</tspan><tspan x="1111" y="450">(air)</tspan></text>
<text x="1046" y="445.5">EdCl2<tspan x="1046" dy="11.5">(air)</tspan></text>
<text class="big" x="1158" y="498">Mortality</text>
<text x="752" y="350.5">ProO<tspan x="752" dy="11.5">(air)</tspan></text>
<text x="736" y="388.5">Sb<tspan x="736" dy="11.5">(air)</tspan></text>
<text x="814" y="396.5">PAHPOM<tspan x="814" dy="11.5">(air)</tspan></text>
<text x="898" y="401.5">MTBE<tspan x="898" dy="11.5">(air)</tspan></text>
<text x="986" y="402.5">Cresol<tspan x="986" dy="11.5">(air)</tspan></text>
<text x="683" y="451.5">EtO<tspan x="683" dy="11.5">(air)</tspan></text>
<text x="612" y="470.5">112TCA<tspan x="612" dy="11.5">(air)</tspan></text>
<text x="708" y="489.5">TCE<tspan x="708" dy="11.5">(air)</tspan></text>
<text x="799" y="470.5">HCl<tspan x="799" dy="11.5">(air)</tspan></text>
<text x="884" y="568.5">PM<tspan class="sub" dy="3">2.5</tspan><tspan x="884" y="580">(air)</tspan></text>
<text x="861" y="528">RYProp</text>
<text x="993" y="656">Hispanic</text>
<text x="1003" y="581.5">Cl<tspan x="1003" dy="11.5">(water)</tspan></text>
<text x="1052" y="556.5">Ca<tspan x="1052" dy="11.5">(water)</tspan></text>
<text x="999" y="512.5">D303Percent<tspan x="999" dy="11.5">(water)</tspan></text>
<text x="296" y="371.5">2NP<tspan x="296" dy="11.5">(air)</tspan></text>
<text x="240" y="435.5">Nitrobenzene<tspan x="240" dy="11.5">(air)</tspan></text>
<text x="334" y="421.5">ECH<tspan x="334" dy="11.5">(air)</tspan></text>
<text x="270" y="409.5">Isophorone<tspan x="270" dy="11.5">(air)</tspan></text>
<text x="166" y="435.5">MeHydrazine<tspan x="166" dy="11.5">(air)</tspan></text>
<text x="300" y="498.5">Bromoform<tspan x="300" dy="11.5">(air)</tspan></text>
<text x="263" y="471.5">DMA<tspan x="263" dy="11.5">(air)</tspan></text>
<text x="427" y="396.5">HCB<tspan x="427" dy="11.5">(air)</tspan></text>
<text x="533" y="415.5">Acetonitrile<tspan x="533" dy="11.5">(air)</tspan></text>
<text x="485" y="436.5">AcrylicAcid<tspan x="485" dy="11.5">(air)</tspan></text>
<text x="392" y="453.5">EtAcrylate<tspan x="392" dy="11.5">(air)</tspan></text>
<text x="306" y="549.5">2Clacephen<tspan x="306" dy="11.5">(air)</tspan></text>
<text x="366" y="529.5">Me2SO4<tspan x="366" dy="11.5">(air)</tspan></text>
<text x="447" y="571.5">Quinoline<tspan x="447" dy="11.5">(air)</tspan></text>
<text x="425" y="529.5">HCBD<tspan x="425" dy="11.5">(air)</tspan></text>
<text x="414" y="601.5">HCCPD<tspan x="414" dy="11.5">(air)</tspan></text>
<text x="639" y="556.5">NO2<tspan x="639" dy="11.5">(air)</tspan></text>
<text x="579" y="543.5">Hydrazine<tspan x="579" dy="11.5">(air)</tspan></text>
<text x="563" y="500.5">Acrylonitrile<tspan x="563" dy="11.5">(air)</tspan></text>
<text x="746" y="553.5">PCP<tspan x="746" dy="11.5">(air)</tspan></text>
<text x="558" y="606.5">SO2<tspan x="558" dy="11.5">(air)</tspan></text>
<text x="569" y="646.5">SO4<tspan x="569" dy="11.5">(water)</tspan></text>
<text x="491" y="644.5">DBCP<tspan x="491" dy="11.5">(air)</tspan></text>
<text x="569" y="687.5">PH3<tspan x="569" dy="11.5">(air)</tspan></text>
<text class="big" x="676" y="725">Incidence</text>
<text x="658" y="648.5">O3<tspan x="658" dy="11.5">(air)</tspan></text>
<text x="746" y="625.5">Hg<tspan x="746" dy="11.5">(water)</tspan></text>
<text x="694" y="595.5">K<tspan x="694" dy="11.5">(water)</tspan></text>
<text x="785" y="576.5">CO<tspan x="785" dy="11.5">(air)</tspan></text>
<text x="942" y="634.5">Na<tspan x="942" dy="11.5">(water)</tspan></text>
<text x="819" y="665.5">TiPct<tspan x="819" dy="11.5">(land)</tspan></text>
<text x="960" y="705">mean_al_pct</text>
<text x="1025" y="700.5">CaPct<tspan x="1025" dy="11.5">(land)</tspan></text>
<text x="894" y="719.5">Na<tspan x="894" dy="11.5">(land)</tspan></text>
<text x="808" y="736.5">Mg<tspan x="808" dy="11.5">(water)</tspan></text>
<text x="924" y="752.5">FePct<tspan x="924" dy="11.5">(land)</tspan></text>
<text x="1047" y="745.5">Zn<tspan x="1047" dy="11.5">(land)</tspan></text>
<text x="1047" y="793">mean_p_pct</text>
<text x="1138" y="631.5">Hg<tspan x="1138" dy="11.5">(land)</tspan></text>
<text x="1171" y="676.5">NO3<tspan x="1171" dy="11.5">(water)</tspan></text>
<text x="1178" y="710.5">Mg<tspan x="1178" dy="11.5">(land)</tspan></text>
<text x="1147" y="749.5">Cu<tspan x="1147" dy="11.5">(land)</tspan></text>
<text x="1268" y="640.5">Pb<tspan x="1268" dy="11.5">(land)</tspan></text>
<text x="1287" y="679">RadonZone</text>
<text x="1378" y="681.5">Se<tspan x="1378" dy="11.5">(land)</tspan></text>
<text x="1287" y="740.5">As<tspan x="1287" dy="11.5">(land)</tspan></text>
</g>
</svg>
